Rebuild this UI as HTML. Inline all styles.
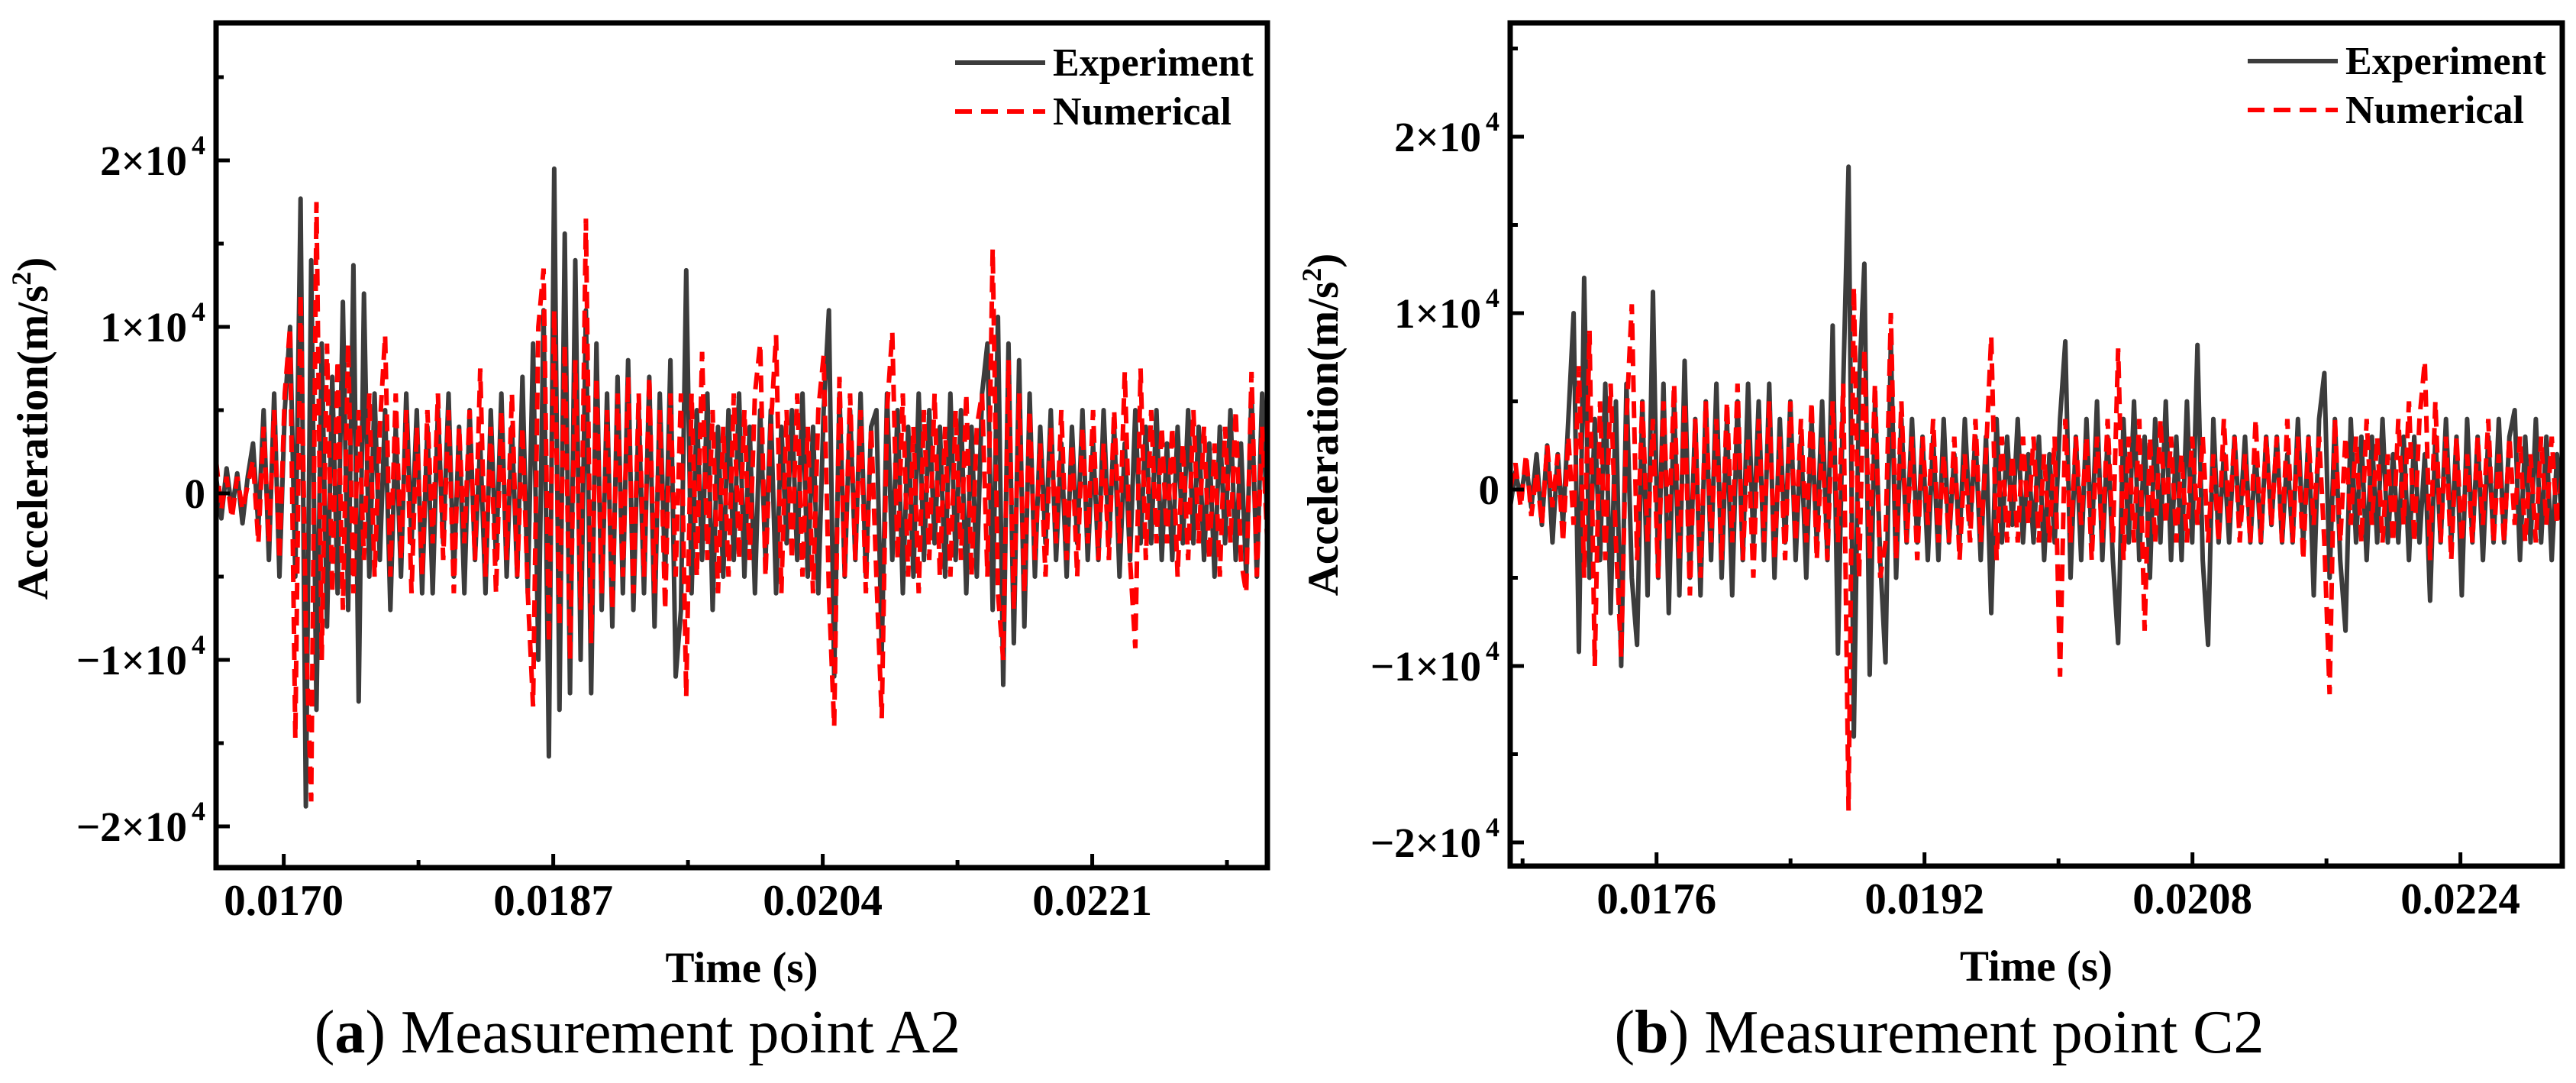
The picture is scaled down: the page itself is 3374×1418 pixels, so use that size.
<!DOCTYPE html>
<html><head><meta charset="utf-8"><style>
html,body{margin:0;padding:0;background:#fff;}
svg{display:block;}
text{font-family:"Liberation Serif",serif;}
</style></head><body>
<svg id="fig" width="3374" height="1418" viewBox="0 0 3374 1418" xmlns="http://www.w3.org/2000/svg"></svg>
<script>
// ---------- data (values in thousands of m/s^2) ----------
const timeRangeA = [0.016573, 0.023205];
const timeRangeB = [0.016726, 0.023008];
const xTicksA = [0.0170, 0.0187, 0.0204, 0.0221];
const xTickLabelsA = ["0.0170","0.0187","0.0204","0.0221"];
const xTicksB = [0.0176, 0.0192, 0.0208, 0.0224];
const xTickLabelsB = ["0.0176","0.0192","0.0208","0.0224"];
const yTicks = [-20, -10, 0, 10, 20];
const yTickLabels = ["\u22122\u00d710", "\u22121\u00d710", "0", "1\u00d710", "2\u00d710"];
const seriesNames = ["Experiment", "Numerical"];

const expA = [1,-1.5,1.5,-1,1.2,-1.8,1,3,-2,5,-4,6,-5,5,10,-5,17.7,-18.8,14,-13,
9,-8,7,-6,11.5,-7,13.7,-12.5,12,-5,6,-4,5,-7,4,-5,6,-3,5,-6,
4,-6,5,-3,6,-5,4,-6,5,-4,3,-6,5,-4,6,-5,4,-5,7,-6,
9,-10,11,-15.8,19.5,-13,15.6,-12,14,-10,11,-12,9,-7,6,-8,7,-6,8,-7,
5,-6,7,-8,6,-5,8,-11,-7,13.4,-6,5,-4,6,-7,4,-5,5,-4,6,
-5,4,-6,5,-4,5,-6,4,-3,5,-4,6,-5,4,-6,5,11,-11,6,-5,
5,-4,6,-5,4,5,-9.5,6,-4,5,-6,4,-5,6,-4,5,-3,4,-5,6,
-4,5,-6,4,-5,6,9,-7,10.6,-11.5,9,-9,8,-8,6,-5,4,-3,5,-4,
3,-5,4,-3,5,-4,3,-4,5,-3,4,-5,3,-4,5,-3,4,-3,5,-4,
3,-4,4,-3,5,-3,4,-4,3,-5,4,-3,5,-4,3,-5,6,-5,6,-2];
const numA = [2,-1,1,-1.5,1,-1,0.5,2,-3,4,-3,5,-4,6,10,-14.7,12,-8,-18.5,17.5,
-10,9,-6,8,-7,9,-6,5,-4,6,-5,4,9.5,-5,6,-4,5,-6,4,-5,
5,-3,6,-4,5,-6,4,-3,5,-4,7.5,-5,4,-6,5,-4,6,-5,4,-6,
-12.8,10,13.5,-9,11,-8,9,-10,8,-7,16.5,-9,7,-6,5,-7,6,-5,7,-6,
6,-5,7,-6,5,-7,6,-5,6,-12.2,6,-5,8.5,-4,5,-6,4,-5,6,-4,
5,-4,6,9,-5,4,9.5,-6,5,-4,6,-5,4,-6,5,8.3,-6,-14,7,-5,
6,-4,5,-6,4,-5,-13.5,5,9.7,-4,6,-5,4,-6,5,-4,6,-5,4,-5,
5,-4,6,-5,4,6,-5,14.7,-6,-10,8,-7,6,-6,5,-4,3,-5,4,-3,
5,-4,3,-5,4,-3,5,-4,3,-4,5,-3,7.3,-4,-9.3,7.5,-4,5,-3,4,
-3,4,-5,3,-4,5,-3,4,-4,3,-5,4,-3,5,-4,-6,7.3,-5,4,-3];
const expB = [-1,1,-0.5,1.5,-1,2,-2,2.5,-3,2,-2,4,10,-9.2,12,-5,4,-4,6,-7,
5,-10,6,-5,-8.8,5,-6,11.2,-5,6,-7,5,-6,7.3,-5,4,-6,5,-4,6,
-5,4,-6,5,-4,6,-3,5,-4,6,-5,4,-3,5,-4,3,-5,4,-3,5,
-4,9.3,-9.3,6,18.3,-14,6,12.8,-10.5,5,-4,-9.8,8.4,-5,4,-3,4,-3,3,-4,
3,-4,4,-3,2,-3,4,-2,3,-4,3,-7,4,-3,3,-2,4,-3,2,-3,
3,-4,2,-3,4,8.4,-5,3,-4,4,-3,5,-4,3,-4,-8.7,4,-3,5,-4,
3,-5,4,-3,5,-4,3,-4,5,-3,8.2,-4,-8.8,4,-3,2,-3,3,-2,3,
-3,2,-3,3,-2,3,-3,2,-3,4,-3,3,-6,4,6.6,-5,4,-4,-8,4,
-3,3,-4,3,-3,4,-3,2,-3,3,-4,3,-3,2,-6.3,3,-3,4,-3,3,
-6,4,-3,3,-4,3,-3,4,-3,3,4.5,-4,3,-3,4,-3,3,-4,2,-2];
const numB = [0,1.5,-1,2,-1.5,1,-2,2.5,-1,2,-3,3,-2,7,-5,9,-10,5,-4,6,
-3,-9.5,4,10.5,-4,5,-3,4,-5,5,-3,6,-4,5,-6,4,-5,5,-3,4,
-4,5,-3,6,-4,3,-5,4,-3,5,-4,3,-4,5,-3,4,-3,5,-4,3,
-4,5,-3,6,-18.2,11.5,-5,8,-4,6,-5,-3,10,-4,5,-3,3,-4,3,-2,
4,-3,2,-3,3,-4,2,-3,4,-3,2,8.7,-4,3,-3,2,-3,3,-2,3,
-3,2,-3,3,-10.6,4,-3,3,-2,3,-4,3,-3,4,-3,8,-4,3,-3,4,
-8,3,-3,4,-2,3,-3,2,-3,3,-2,3,-3,2,-3,4,-2,3,-3,2,
-3,4,-3,3,-2,3,-3,4,-3,3,-4,3,-2,3,-3,-11.6,4,-3,3,-2,
3,-3,4,-2,3,-3,2,-3,4,-2,5,-3,4,7.3,-4,5,-3,3,-4,3,
-3,2,-3,3,-2,4,-3,2,-3,3,-2,3,-3,2,-3,3,-2,3,-2,1];

const NS = "http://www.w3.org/2000/svg";
const svg = document.getElementById("fig");
function mk(tag, attrs, parent){
  const e = document.createElementNS(NS, tag);
  for (const k in attrs) e.setAttribute(k, attrs[k]);
  (parent||svg).appendChild(e);
  return e;
}

function drawChart(c){
  const g = mk("g", {});
  
  
  const xs = t => c.L + (t - c.tr[0]) / (c.tr[1] - c.tr[0]) * (c.R - c.L);
  const ys = v => c.y0 - v * c.pxPer10k / 10;
  const n1 = c.exp.length, n2 = c.num.length;
  const tAt = (i, n) => c.tr[0] + i / (n - 1) * (c.tr[1] - c.tr[0]);

  const cp = mk("clipPath", {id: "clip-" + c.name}, g);
  mk("rect", {x: c.L, y: c.T, width: c.R - c.L, height: c.B - c.T}, cp);

  let d = "";
  c.exp.forEach((v, i) => { d += (i ? "L" : "M") + xs(tAt(i, n1)).toFixed(1) + " " + ys(v).toFixed(1); });
  const pe = mk("path", {d: d, fill: "none", stroke: "#3c3c3c", "stroke-width": 6, "stroke-linejoin": "round", "clip-path": "url(#clip-" + c.name + ")"}, g);
  
  
  d = "";
  c.num.forEach((v, i) => { d += (i ? "L" : "M") + xs(tAt(i, n2)).toFixed(1) + " " + ys(v).toFixed(1); });
  const pn = mk("path", {d: d, fill: "none", stroke: "#ff0000", "stroke-width": 6, "stroke-dasharray": "22 12", "clip-path": "url(#clip-" + c.name + ")"}, g);
  
  

  const fr = mk("rect", {x: c.L, y: c.T, width: c.R - c.L, height: c.B - c.T, fill: "none", stroke: "#000", "stroke-width": 7}, g);
  
  

  const step = c.xt[1] - c.xt[0];
  for (let t = c.xt[0] - step; t <= c.tr[1] + 1e-9; t += step / 2) {
    if (t < c.tr[0]) continue;
    const major = c.xt.some(m => Math.abs(m - t) < 1e-8);
    const x = xs(t);
    mk("line", {x1: x, x2: x, y1: c.B, y2: c.B - (major ? 18 : 10), stroke: "#000", "stroke-width": 5}, g);
  }
  c.xt.forEach((t, i) => {
    const tx = mk("text", {x: xs(t), y: c.B + 62, "text-anchor": "middle", "font-size": 57, "font-weight": "bold"}, g);
    tx.textContent = c.xl[i];
    
    
  });
  for (let v = -25; v <= 25; v += 5) {
    const y = ys(v);
    if (y < c.T + 2 || y > c.B - 2) continue;
    const major = v % 10 === 0;
    mk("line", {x1: c.L, x2: c.L + (major ? 18 : 10), y1: y, y2: y, stroke: "#000", "stroke-width": 5}, g);
  }
  yTicks.forEach((v, i) => {
    const tx = mk("text", {x: c.L - 14 - (v === 0 ? 0 : 24), y: ys(v) + 19, "text-anchor": "end", "font-size": 55, "font-weight": "bold"}, g);
    tx.textContent = yTickLabels[i];
    
    
    if (v !== 0) {
      const sp = mk("text", {x: c.L - 14, y: ys(v) - 8, "text-anchor": "end", "font-size": 36, "font-weight": "bold"}, g);
      sp.textContent = "4";
      
      
    }
  });
  const xt = mk("text", {x: (c.L + c.R) / 2, y: c.B + 150, "text-anchor": "middle", "font-size": 57, "font-weight": "bold"}, g);
  xt.textContent = "Time (s)";
  
  
  const yt = mk("text", {x: 0, y: 0, "text-anchor": "middle", "font-size": 57, "font-weight": "bold", transform: "translate(" + c.ytx + "," + (c.y0 - 85) + ") rotate(-90)"}, g);
  yt.innerHTML = 'Acceleration(m/s<tspan font-size="36" dy="-22">2</tspan><tspan dy="22">)</tspan>';
  
  
  const lg = mk("g", {}, g);
  
  
  const l1 = mk("line", {x1: c.lgx, x2: c.lgx + 118, y1: c.lgy, y2: c.lgy, stroke: "#3c3c3c", "stroke-width": 6}, lg);
  
  
  const t1 = mk("text", {x: c.lgx + 128, y: c.lgy + 17, "font-size": 52, "font-weight": "bold"}, lg);
  t1.textContent = seriesNames[0];
  
  
  const l2 = mk("line", {x1: c.lgx, x2: c.lgx + 118, y1: c.lgy + 64, y2: c.lgy + 64, stroke: "#ff0000", "stroke-width": 6, "stroke-dasharray": "22 12"}, lg);
  
  
  const t2 = mk("text", {x: c.lgx + 128, y: c.lgy + 81, "font-size": 52, "font-weight": "bold"}, lg);
  t2.textContent = seriesNames[1];
  
  
  const cap = mk("text", {x: c.capx, y: 1378, "text-anchor": "middle", "font-size": 80}, g);
  cap.innerHTML = '(<tspan font-weight="bold">' + c.letter + '</tspan>) ' + c.caption;
  
  
}

drawChart({name: "chart-a2", L: 283, R: 1660, T: 30, B: 1136, y0: 646, pxPer10k: 218,
  tr: timeRangeA, xt: xTicksA, xl: xTickLabelsA, exp: expA, num: numA,
  ytx: 62, lgx: 1251, lgy: 82, capx: 835, letter: "a", caption: "Measurement point A2"});
drawChart({name: "chart-c2", L: 1978, R: 3356, T: 30, B: 1134, y0: 641, pxPer10k: 231,
  tr: timeRangeB, xt: xTicksB, xl: xTickLabelsB, exp: expB, num: numB,
  ytx: 1752, lgx: 2944, lgy: 80, capx: 2540, letter: "b", caption: "Measurement point C2"});
</script>
</body></html>
